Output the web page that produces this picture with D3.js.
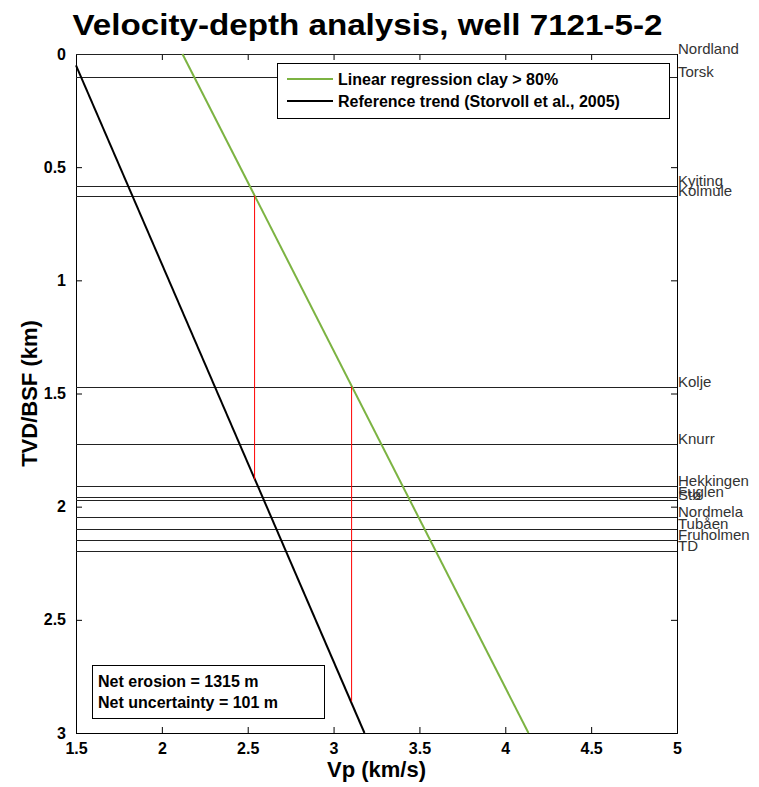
<!DOCTYPE html>
<html>
<head>
<meta charset="utf-8">
<script src="https://cdn.jsdelivr.net/npm/d3@7"></script>
<style>
  body { margin: 0; background: #fff; }
  text { font-family: "Liberation Sans", Arial, sans-serif; }
</style>
</head>
<body>
<script>
const width = 759;
const height = 787;
const margin = { top: 54, right: 82, bottom: 54, left: 76 };

// formation tops (km)
const formations = ['Nordland', 'Torsk', 'Kyiting', 'Kolmule', 'Kolje', 'Knurr', 'Hekkingen', 'Fuglen', 'Stø', 'Nordmela', 'Tubåen', 'Fruholmen', 'TD'];
const formationDepths = [0, 0.100, 0.582, 0.626, 1.470, 1.725, 1.909, 1.956, 1.971, 2.047, 2.098, 2.148, 2.196];

// lines: [Vp, depth]
const regressionLine = [[2.12, 0], [4.135, 3]];
const referenceTrend = [[1.5, 0.05], [3.18, 3]];
const erosionMarks = [
    [[2.54, 0.626], [2.54, 1.88]],
    [[3.105, 1.47], [3.105, 2.86]]
];

const xTicks = [1.5, 2, 2.5, 3, 3.5, 4, 4.5, 5];
const yTicks = [0, 0.5, 1, 1.5, 2, 2.5, 3];

const legendLabels = ['Linear regression clay > 80%', 'Reference trend (Storvoll et al., 2005)'];
const legendColors = ['#7cb342', '#000'];
const infoLines = ['Net erosion = 1315 m', 'Net uncertainty = 101 m'];

const chartWidth = width - margin.left - margin.right;
const chartHeight = height - margin.top - margin.bottom;

const svg = d3.select('body').append('svg')
    .attr('width', width)
    .attr('height', height);

const g = svg.append('g')
    .attr('transform', `translate(${margin.left}, ${margin.top})`);

const xScale = d3.scaleLinear().domain([1.5, 5]).range([0, chartWidth]);
const yScale = d3.scaleLinear().domain([0, 3]).range([0, chartHeight]);

// axes (ticks inward, on all four sides)
const tickLen = 6;
g.append('g')
    .attr('transform', `translate(0, ${chartHeight})`)
    .call(d3.axisBottom(xScale).tickValues(xTicks).tickSize(-tickLen).tickPadding(tickLen + 4).tickFormat(d3.format('')));
g.append('g')
    .call(d3.axisTop(xScale).tickValues(xTicks).tickSize(-tickLen).tickFormat(''));
g.append('g')
    .call(d3.axisLeft(yScale).tickValues(yTicks).tickSize(-tickLen).tickPadding(tickLen + 4).tickFormat(d3.format('')));
g.append('g')
    .attr('transform', `translate(${chartWidth}, 0)`)
    .call(d3.axisRight(yScale).tickValues(yTicks).tickSize(-tickLen).tickFormat(''));

g.selectAll('.domain').attr('stroke', '#000').attr('stroke-width', 1);
g.selectAll('.tick line').attr('stroke', '#000');
g.selectAll('.tick text')
    .attr('font-size', 16)
    .attr('font-weight', 'bold')
    .attr('fill', '#000')
    .attr('font-family', '"Liberation Sans", Arial, sans-serif');

// formation lines + labels
g.selectAll('.formation')
    .data(formations)
    .enter().append('line')
    .attr('x1', 0)
    .attr('x2', chartWidth)
    .attr('y1', (d, i) => Math.round(yScale(formationDepths[i])) + 0.5)
    .attr('y2', (d, i) => Math.round(yScale(formationDepths[i])) + 0.5)
    .attr('stroke', '#222')
    .attr('stroke-width', 1);

g.selectAll('.flabel')
    .data(formations)
    .enter().append('text')
    .attr('x', chartWidth + 1)
    .attr('y', (d, i) => yScale(formationDepths[i]))
    .attr('font-size', 15)
    .attr('fill', '#333')
    .text(d => d);

// lines
const line = d3.line()
    .x(d => xScale(d[0]))
    .y(d => yScale(d[1]));

g.append('path')
    .datum(regressionLine)
    .attr('fill', 'none')
    .attr('stroke', legendColors[0])
    .attr('stroke-width', 2)
    .attr('d', line);

g.append('path')
    .datum(referenceTrend)
    .attr('fill', 'none')
    .attr('stroke', legendColors[1])
    .attr('stroke-width', 2)
    .attr('d', line);

g.selectAll('.erosion')
    .data(erosionMarks)
    .enter().append('path')
    .attr('fill', 'none')
    .attr('stroke', '#ff0000')
    .attr('stroke-width', 1)
    .attr('d', line);

// legend
const legend = g.append('g').attr('transform', 'translate(201, 9)');
legend.append('rect')
    .attr('x', 0.5).attr('y', 0.5)
    .attr('width', 392).attr('height', 55)
    .attr('fill', '#fff').attr('stroke', '#000');
legendLabels.forEach((label, i) => {
    legend.append('line')
        .attr('x1', 10).attr('x2', 56)
        .attr('y1', 16 + i * 22).attr('y2', 16 + i * 22)
        .attr('stroke', legendColors[i]).attr('stroke-width', 2);
    legend.append('text')
        .attr('x', 61).attr('y', 22 + i * 22)
        .attr('font-size', 16).attr('font-weight', 'bold')
        .text(label);
});

// info box
const info = g.append('g').attr('transform', 'translate(16, 611)');
info.append('rect')
    .attr('x', 0.5).attr('y', 0.5)
    .attr('width', 232).attr('height', 53)
    .attr('fill', '#fff').attr('stroke', '#000');
infoLines.forEach((t, i) => {
    info.append('text')
        .attr('x', 6).attr('y', 22 + i * 21)
        .attr('font-size', 16).attr('font-weight', 'bold')
        .text(t);
});

// title + axis labels
svg.append('text')
    .attr('x', width / 2 - 12)
    .attr('y', 35)
    .attr('text-anchor', 'middle')
    .attr('font-size', 30)
    .attr('font-weight', 'bold')
    .attr('textLength', 590)
    .attr('lengthAdjust', 'spacingAndGlyphs')
    .text('Velocity-depth analysis, well 7121-5-2');

svg.append('text')
    .attr('x', margin.left + chartWidth / 2)
    .attr('y', 777)
    .attr('text-anchor', 'middle')
    .attr('font-size', 22)
    .attr('font-weight', 'bold')
    .text('Vp (km/s)');

svg.append('text')
    .attr('transform', `translate(37, ${margin.top + chartHeight / 2}) rotate(-90)`)
    .attr('text-anchor', 'middle')
    .attr('font-size', 22)
    .attr('font-weight', 'bold')
    .text('TVD/BSF (km)');
</script>
</body>
</html>
